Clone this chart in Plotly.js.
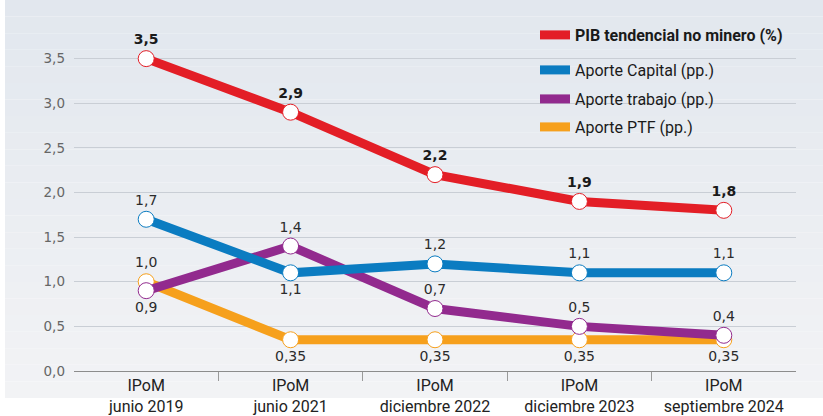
<!DOCTYPE html>
<html>
<head>
<meta charset="utf-8">
<script src="https://cdn.plot.ly/plotly-3.0.1.min.js"></script>
<style>html,body{margin:0;padding:0;background:#fff;}#chart{width:823px;height:416px;}</style>
</head>
<body>
<div id="chart"></div>
<script>
// ---- data ----
const categories = ["IPoM<br>junio 2019", "IPoM<br>junio 2021", "IPoM<br>diciembre 2022", "IPoM<br>diciembre 2023", "IPoM<br>septiembre 2024"];
const seriesNames = ["PIB tendencial no minero (%)", "Aporte Capital (pp.)", "Aporte trabajo (pp.)", "Aporte PTF (pp.)"];
const pib = [3.5, 2.9, 2.2, 1.9, 1.8];
const capital = [1.7, 1.1, 1.2, 1.1, 1.1];
const trabajo = [0.9, 1.4, 0.7, 0.5, 0.4];
const ptf = [1.0, 0.35, 0.35, 0.35, 0.35];
const yTicks = [0, 0.5, 1.0, 1.5, 2.0, 2.5, 3.0, 3.5];

// ---- styling ----
const colors = {pib: "#e31e26", capital: "#0b7cc1", trabajo: "#922a8e", ptf: "#f6a01c"};
const W = 823, H = 416, L = 74, R = 27, T = 14, B = 45;
const pw = W - L - R, ph = H - T - B;
const xIdx = categories.map((_, i) => i);
const fmt = v => (Math.abs(v * 10 - Math.round(v * 10)) < 1e-9 ? v.toFixed(1) : v.toFixed(2)).replace('.', ',');
const numFont = "DejaVu Sans, sans-serif";

function series(vals, color, positions, bold) {
  return {
    x: xIdx, y: vals, type: "scatter", mode: "lines+markers+text",
    line: {color: color, width: 9},
    marker: {size: 16, color: "#ffffff", line: {color: color, width: 1}},
    text: vals.map(v => bold ? "<b>" + fmt(v) + "</b>" : fmt(v)),
    textposition: positions,
    textfont: {family: numFont, size: 14, color: bold ? "#1a1a1a" : "#2b2b2b"},
    cliponaxis: false, showlegend: false, hoverinfo: "skip"
  };
}

const traces = [
  series(ptf, colors.ptf, ["top center", "bottom center", "bottom center", "bottom center", "bottom center"], false),
  series(trabajo, colors.trabajo, ["bottom center", "top center", "top center", "top center", "top center"], false),
  series(capital, colors.capital, ["top center", "bottom center", "top center", "top center", "top center"], false),
  series(pib, colors.pib, ["top center", "top center", "top center", "top center", "top center"], true)
];

// legend proxies (one legend each, placed individually)
const legendCols = [colors.pib, colors.capital, colors.trabajo, colors.ptf];
const legendY = [35, 70, 99, 127];
const legendIds = ["legend", "legend2", "legend3", "legend4"];
seriesNames.forEach((n, i) => {
  traces.push({
    x: [null], y: [null], type: "scatter", mode: "lines",
    name: i === 0 ? "<b>" + n + "</b>" : n,
    line: {color: legendCols[i], width: 9},
    showlegend: true, legend: legendIds[i], hoverinfo: "skip"
  });
});

// background gradient bands
const shapes = [];
const cTop = [226, 231, 238], cBot = [242, 243, 245];
const nb = 24, bgTop = 0, bgBot = 398, bgLeft = 5;
for (let i = 0; i < nb; i++) {
  const y0 = bgTop + (bgBot - bgTop) * i / nb, y1 = bgTop + (bgBot - bgTop) * (i + 1) / nb;
  const f = i / (nb - 1);
  const c = cTop.map((t, k) => Math.round(t + (cBot[k] - t) * f));
  shapes.push({
    type: "rect", layer: "below", xref: "paper", yref: "paper",
    x0: (bgLeft - L) / pw, x1: (W - L) / pw,
    y0: 1 - (y1 - T) / ph, y1: 1 - (y0 - T) / ph,
    fillcolor: "rgb(" + c.join(",") + ")", line: {width: 0}
  });
}

const layout = {
  width: W, height: H,
  margin: {l: L, r: R, t: T, b: B},
  paper_bgcolor: "#ffffff", plot_bgcolor: "rgba(0,0,0,0)",
  separators: ",.",
  font: {family: "Roboto, sans-serif", color: "#222"},
  showlegend: true,
  xaxis: {
    range: [-0.5, 4.5], tickvals: xIdx, ticktext: categories,
    showgrid: false, zeroline: false, showline: true, linecolor: "#8c8c8c", linewidth: 1,
    ticks: "", tickfont: {family: "Roboto, sans-serif", size: 16, color: "#222"},
    minor: {tickvals: [0.5, 1.5, 2.5, 3.5], ticks: "outside", ticklen: 9, tickcolor: "#9a9a9a", tickwidth: 1, showgrid: false},
    fixedrange: true
  },
  yaxis: {
    range: [0, 4.0], tickvals: yTicks, tickformat: ".1f",
    showgrid: true, gridcolor: "#c9ced5", gridwidth: 1, zeroline: false, showline: false,
    ticks: "", ticklabelstandoff: 8,
    tickfont: {family: numFont, size: 13.5, color: "#666"},
    fixedrange: true
  },
  shapes: shapes
};
legendIds.forEach((id, i) => {
  layout[id] = {
    x: (535 - L) / pw, xanchor: "left",
    y: 1 - (legendY[i] - T) / ph, yanchor: "middle",
    bgcolor: "rgba(0,0,0,0)", borderwidth: 0,
    font: {family: "Roboto, sans-serif", size: 16, color: "#1a1a1a"}
  };
});

Plotly.newPlot("chart", traces, layout, {displayModeBar: false, staticPlot: true});
</script>
</body>
</html>
